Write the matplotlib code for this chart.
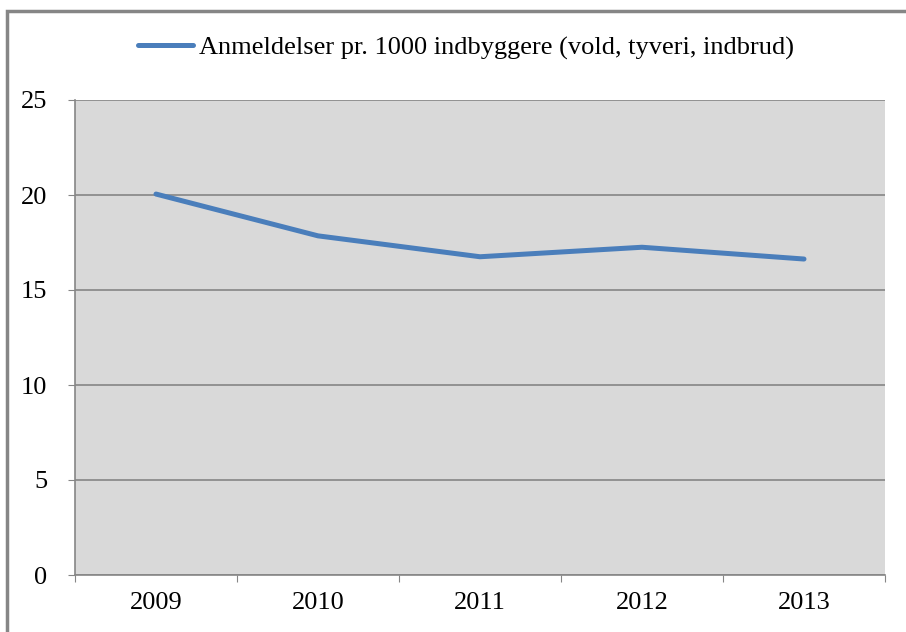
import matplotlib.pyplot as plt
from matplotlib.patches import Rectangle

years = ["2009", "2010", "2011", "2012", "2013"]
reports = [20.05, 17.85, 16.75, 17.25, 16.63]
yticks = [0, 5, 10, 15, 20, 25]
label = "Anmeldelser pr. 1000 indbyggere (vold, tyveri, indbrud)"

plt.rcParams['font.family'] = ['Liberation Serif', 'DejaVu Serif']
fs = 19

fig = plt.figure(figsize=(9.06, 6.32), dpi=100)
W, H = 906, 632
ax = fig.add_axes([75 / W, 1 - 575 / H, 810 / W, 475 / H])
ax.set_facecolor('#D9D9D9')

# outer chart frame (cropped on right and bottom)
fig.patches.append(Rectangle((7 / W, -0.05), 1.2, 1 - 10.5 / H + 0.05,
                             transform=fig.transFigure, fill=False,
                             edgecolor='#868686', linewidth=2.5))

x = list(range(len(years)))
line, = ax.plot(x, reports, color='#4A7EBB', linewidth=3.6,
                solid_capstyle='round', solid_joinstyle='round', label=label)

ax.set_xlim(-0.5, len(years) - 0.5)
ax.set_ylim(0, 25)
ax.set_yticks(yticks)
ax.set_yticklabels([str(v) for v in yticks], fontsize=fs)
ax.yaxis.grid(True, color='#868686', linewidth=1.2)
ax.set_axisbelow(True)

ax.set_xticks([i - 0.5 for i in range(len(years) + 1)])
ax.set_xticklabels([])
ax.set_xticks(x, minor=True)
ax.set_xticklabels(years, minor=True, fontsize=fs)
ax.tick_params(axis='x', which='minor', length=0, pad=12)
ax.tick_params(axis='x', which='major', length=5, color='#868686', direction='out')
ax.tick_params(axis='y', length=5, color='#868686', direction='out', pad=15)

for s in ['top', 'right']:
    ax.spines[s].set_visible(False)
for s in ['left', 'bottom']:
    ax.spines[s].set_color('#868686')
    ax.spines[s].set_linewidth(1.2)

fig.legend(handles=[line], loc='center', bbox_to_anchor=(0.514, 1 - 48 / H),
           frameon=False, fontsize=fs, handlelength=2.1, handletextpad=0.2)

fig.savefig('out.png', dpi=100)
